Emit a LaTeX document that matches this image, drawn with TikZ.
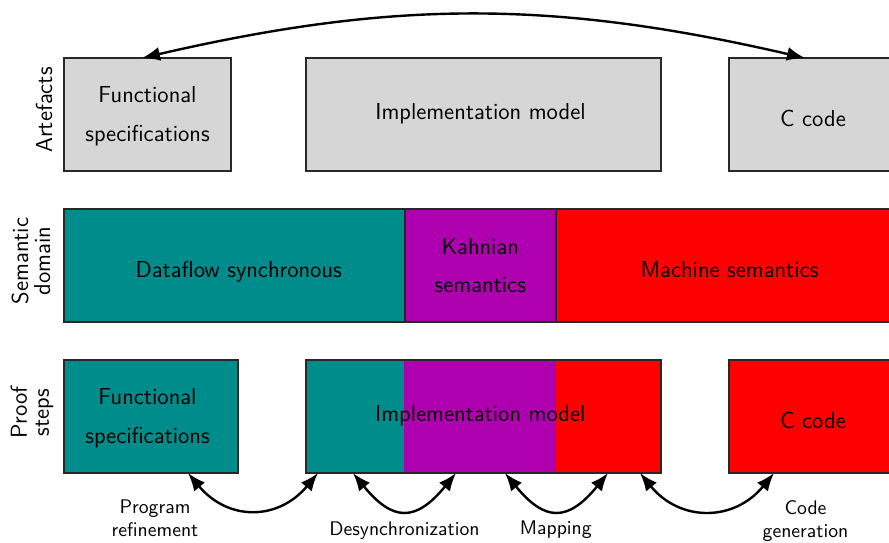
\documentclass[tikz,border=0pt]{standalone}
\usetikzlibrary{arrows.meta,calc}
\definecolor{boxgray}{RGB}{214,214,214}
\definecolor{tealc}{RGB}{0,140,138}
\definecolor{purplec}{RGB}{175,0,175}
\definecolor{redc}{RGB}{255,0,0}
\definecolor{edgec}{RGB}{40,40,40}
\begin{document}
\begin{tikzpicture}[x=0.5pt,y=-0.5pt,
  box/.style={draw=edgec,line width=0.6pt,inner sep=0pt,outer sep=0pt,anchor=north west,minimum height=56.5pt},
  txt/.style={font=\sffamily\fontsize{11.55}{19.15}\selectfont,align=center,inner sep=0pt},
  side/.style={font=\sffamily\fontsize{11.55}{11}\selectfont,align=center,inner sep=0pt,rotate=90},
  lbl/.style={font=\sffamily\fontsize{9.85}{11.5}\selectfont,align=center,inner sep=0pt},
  arr/.style={line width=1.2pt,{Latex[length=9pt,width=7pt]}-{Latex[length=9pt,width=7pt]}}]
\useasboundingbox (0,0) rectangle (889,542);
\clip (0,0) rectangle (889,542);

% Row 1: artefacts
\node[box,fill=boxgray,minimum width=83.5pt] (fs1) at (64,58) {};
\node[box,fill=boxgray,minimum width=177.5pt] (im1) at (306,58) {};
\node[box,fill=boxgray,minimum width=83.5pt] (cc1) at (729,58) {};

% Row 2: semantic domain
\node[box,fill=tealc,minimum width=170.5pt] (df) at (64,209) {};
\node[box,fill=purplec,minimum width=75.5pt] (kh) at (405,209) {};
\node[box,fill=redc,minimum width=173.5pt] (ms) at (556,209) {};

% Row 3: proof steps
\node[box,fill=tealc,minimum width=87pt] (fs3) at (64,360) {};
\fill[tealc] (306,360) rectangle (404,473);
\fill[purplec] (404,360) rectangle (556,473);
\fill[redc] (556,360) rectangle (661,473);
\node[box,minimum width=177.5pt] (im3) at (306,360) {};
\node[box,fill=redc,minimum width=83.5pt] (cc3) at (729,360) {};

% Texts
\node[txt] (tfs1) at (147.5,116.25) {Functional\\specifications};
\node[txt,anchor=base] (tim1) at (480.5,119.5) {Implementation model};
\node[txt,anchor=base] (tcc1) at (813,126) {C code};
\node[txt,anchor=base] (tdf) at (238.7,277.3) {Dataflow synchronous};
\node[txt] (tkh) at (480.3,265.25) {Kahnian\\semantics};
\node[txt,anchor=base] (tms) at (729.5,277.3) {Machine semantics};
\node[txt] (tfs3) at (147.5,418.25) {Functional\\specifications};
\node[txt,anchor=base] (tim3) at (480.3,421.5) {Implementation model};
\node[txt,anchor=base] (tcc3) at (813,428) {C code};

% Side labels
\node[side] (lart) at (44,110) {Artefacts};
\node[side] (lsem) at (31,261) {Semantic\\domain};
\node[side] (lproof) at (32,412.5) {Proof\\steps};

% Top arrow
\draw[arr] ($(fs1.north west)+(78,0)$) to[bend left=13] ($(cc1.north west)+(76,0)$);

% Bottom arrows
\draw[arr] ($(fs3.south west)+(124,0)$) .. controls +(40,48) and +(-40,48) .. ($(im3.south west)+(12,0)$);
\draw[arr] ($(im3.south west)+(47,0)$) .. controls +(40,49) and +(-40,49) .. ($(im3.south west)+(150,0)$);
\draw[arr] ($(im3.south west)+(199,0)$) .. controls +(40,49) and +(-40,49) .. ($(im3.south west)+(302,0)$);
\draw[arr] ($(im3.south east)+(-21,0)$) .. controls +(40,49) and +(-40,49) .. ($(cc3.south west)+(45,0)$);

% Bottom labels
\node[lbl] (lprog) at (155,518.7) {Program\\refinement};
\node[lbl,anchor=base] (ldesync) at (404.5,535) {Desynchronization};
\node[lbl,anchor=base] (lmap) at (555.8,534.5) {Mapping};
\node[lbl] (lcode) at (805.5,520.6) {Code\\generation};
\end{tikzpicture}
\end{document}
